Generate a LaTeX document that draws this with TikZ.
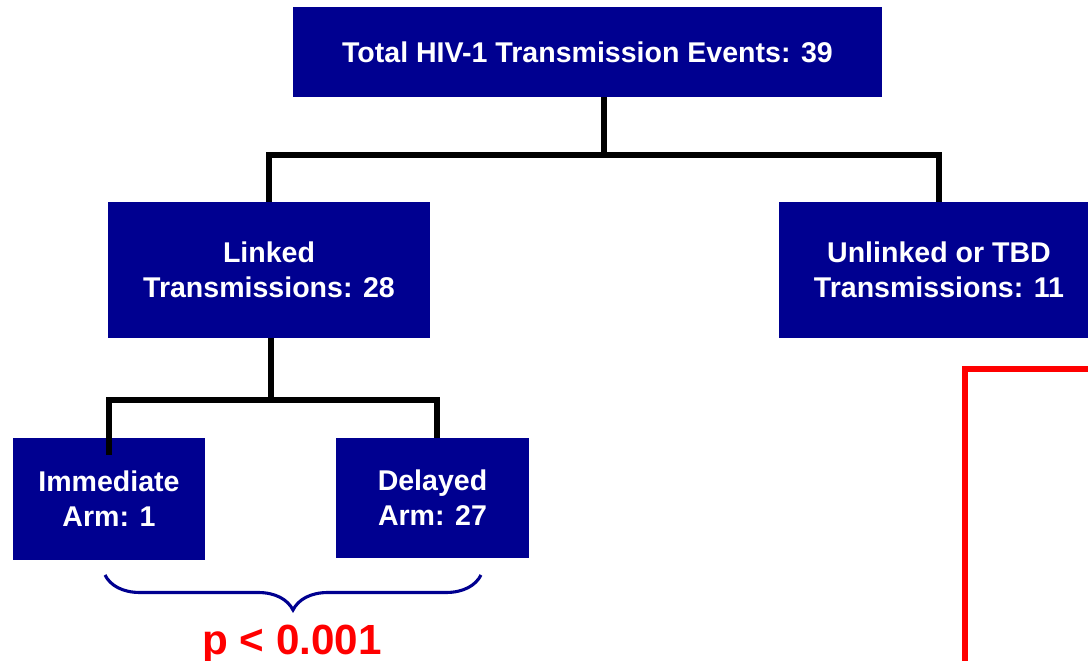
\documentclass[tikz,border=0pt]{standalone}
\usepackage{fontspec}
\setmainfont{Liberation Sans}
\usetikzlibrary{decorations.pathreplacing}
\definecolor{boxblue}{RGB}{0,0,144}
\tikzset{
  event/.style={fill=boxblue, text=white, align=center, inner sep=0pt,
    font=\fontsize{20.3}{25}\selectfont\bfseries},
  tree/.style={draw=black, line width=4.6pt},
  bracket/.style={draw=boxblue, line width=2.2pt, decorate,
    decoration={brace, mirror, amplitude=0.875cm}},
  pvalue/.style={text=red, anchor=base, inner sep=0pt,
    font=\fontsize{30}{36}\selectfont\bfseries}
}
\begin{document}
\begin{tikzpicture}[x=0.025cm, y=-0.025cm]
  \useasboundingbox (0,0) rectangle (1088,661);
  \clip (0,0) rectangle (1088,661);

  \node[event, minimum width=14.725cm, minimum height=2.25cm] (total) at (587.5,52)
    {Total HIV-1 Transmission Events: 39};
  \node[event, minimum width=8.05cm, minimum height=3.4cm] (linked) at (269,270)
    {Linked\\Transmissions: 28};
  \node[event, minimum width=8cm, minimum height=3.4cm] (unlinked) at (939,270)
    {Unlinked or TBD\\Transmissions: 11};
  \node[event, minimum width=4.8cm, minimum height=3.05cm] (immediate) at (109,499)
    {Immediate\\Arm: 1};
  \node[event, minimum width=4.825cm, minimum height=3cm] (delayed) at (432.5,498)
    {Delayed\\Arm: 27};

  % tree connectors
  \coordinate (topjoin) at (604,155);
  \coordinate (linkjoin) at (271,400);
  \draw[tree] (total.south -| topjoin) -- (topjoin);
  \draw[tree] (linked.north) |- (topjoin) -| (unlinked.north);
  \draw[tree] (linked.south -| linkjoin) -- (linkjoin);
  \draw[tree] ([yshift=-0.43cm]immediate.north) |- (linkjoin) -| ([xshift=0.11cm]delayed.north);

  % comparison
  \coordinate (bl) at (105,575);
  \coordinate (br) at (481,575);
  \draw[bracket] (bl) -- (br);
  \node[pvalue] (pval) at (292,655) {p < 0.001};

  \draw[red, line width=3.6pt] (965,700) |- (1100,369);
\end{tikzpicture}
\end{document}
